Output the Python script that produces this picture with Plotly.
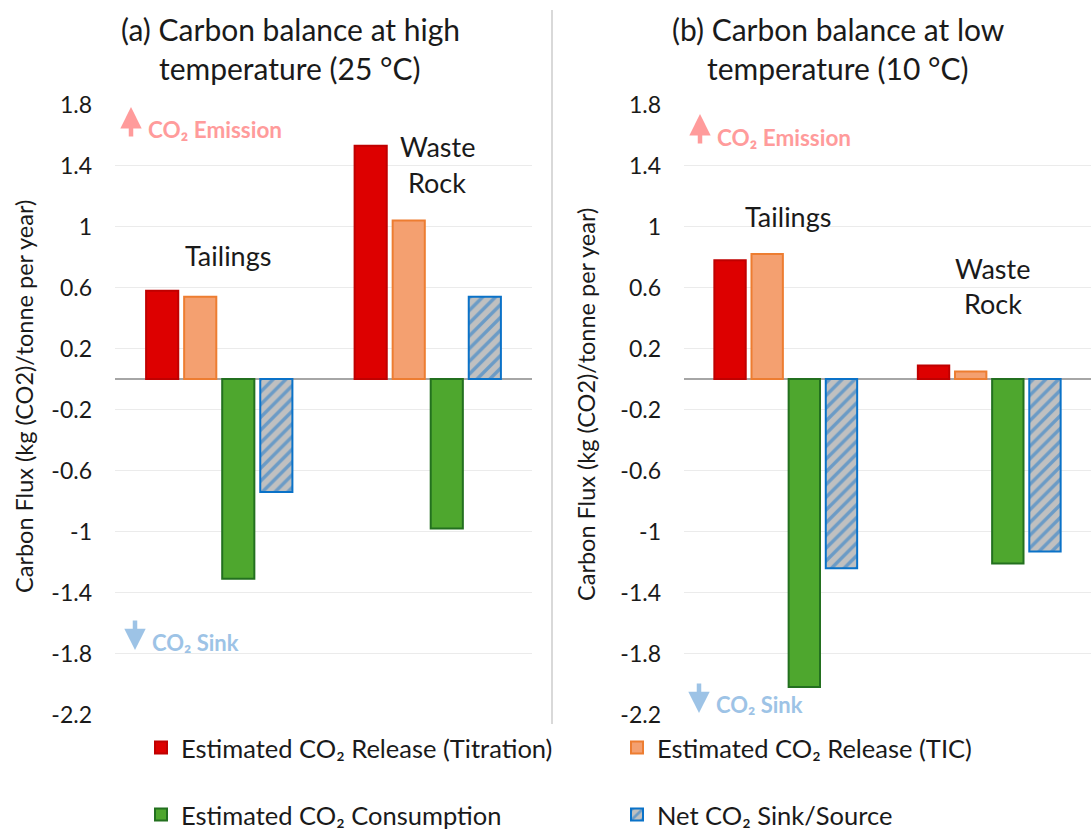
import plotly.graph_objects as go

W, H = 1091, 830

categories = ["Tailings", "Waste Rock"]
series_names = [
    "Estimated CO₂ Release (Titration)",
    "Estimated CO₂ Release (TIC)",
    "Estimated CO₂ Consumption",
    "Net CO₂ Sink/Source",
]
high_titration = [0.58, 1.53]
high_tic = [0.54, 1.04]
high_consumption = [-1.31, -0.98]
high_net = [-0.74, 0.54]
low_titration = [0.78, 0.09]
low_tic = [0.82, 0.05]
low_consumption = [-2.02, -1.21]
low_net = [-1.24, -1.13]

tick_vals = [1.8, 1.4, 1.0, 0.6, 0.2, -0.2, -0.6, -1.0, -1.4, -1.8, -2.2]
tick_text = ["1.8", "1.4", "1", "0.6", "0.2", "-0.2", "-0.6", "-1", "-1.4", "-1.8", "-2.2"]

FONT = "Lato"
TXT = "#1a1a1a"

styles = [
    dict(color="#DD0000", line=dict(color="#C00000", width=2)),
    dict(color="#F4A070", line=dict(color="#ED7D31", width=2)),
    dict(color="#4EA72E", line=dict(color="#23701F", width=2)),
    dict(color="#BFBFBF", line=dict(color="#0A72C8", width=2),
         pattern=dict(shape="/", fgcolor="#1676CC", bgcolor="#C0C0C0", size=9, solidity=0.38)),
]

def px_x(p):
    return p / W

def px_y(p):
    return 1 - p / H

fig = go.Figure()
high = [high_titration, high_tic, high_consumption, high_net]
low = [low_titration, low_tic, low_consumption, low_net]
legends = ["legend", "legend2", "legend3", "legend4"]
for i, (name, vals) in enumerate(zip(series_names, high)):
    fig.add_trace(go.Bar(x=categories, y=vals, name=name, marker=styles[i],
                         xaxis="x", yaxis="y", legend=legends[i], showlegend=True))
for i, (name, vals) in enumerate(zip(series_names, low)):
    fig.add_trace(go.Bar(x=categories, y=vals, name=name, marker=styles[i],
                         xaxis="x2", yaxis="y2", showlegend=False))

ydom = [px_y(714.5), px_y(104.7)]
yax = dict(range=[-2.2, 1.8], tickvals=tick_vals, ticktext=tick_text,
           showgrid=True, gridcolor="#EBEBEB", gridwidth=1,
           zeroline=True, zerolinecolor="#A6A6A6", zerolinewidth=1.5,
           showline=False, ticks="", ticklabelstandoff=22,
           tickfont=dict(family=FONT, size=23, color=TXT), domain=ydom)
xax = dict(showticklabels=False, showgrid=False, zeroline=False, showline=False, ticks="")

fig.update_layout(
    width=W, height=H,
    margin=dict(l=0, r=0, t=0, b=0, autoexpand=False),
    paper_bgcolor="white", plot_bgcolor="white",
    barmode="group", bargap=0.27, bargroupgap=0.155,
    font=dict(family=FONT, color=TXT),
    xaxis=dict(xax, domain=[px_x(115), px_x(532)]),
    xaxis2=dict(xax, domain=[px_x(684), 1.0]),
    yaxis=dict(yax, anchor="x"),
    yaxis2=dict(yax, anchor="x2"),
)

leg_common = dict(orientation="h", xanchor="left", yanchor="middle",
                  font=dict(family=FONT, size=25.5, color=TXT), bgcolor="rgba(0,0,0,0)")
leg_pos = [(141, 748), (617, 748), (141, 815), (617, 815)]
for name, (lx, ly) in zip(legends, leg_pos):
    fig.update_layout({name: dict(leg_common, x=px_x(lx), y=px_y(ly))})

ann = []
def text(x, y, s, size, color=TXT, bold=False, angle=0):
    if bold:
        s = "<b>" + s + "</b>"
    ann.append(dict(xref="paper", yref="paper", x=px_x(x), y=px_y(y), text=s,
                    showarrow=False, xanchor="center", yanchor="middle", textangle=angle,
                    font=dict(family=FONT, size=size, color=color)))

def arrow(x, y_tip, length, color, up=True):
    ann.append(dict(xref="paper", yref="paper", x=px_x(x), y=px_y(y_tip), text="",
                    showarrow=True, ax=0, ay=length if up else -length,
                    arrowhead=2, arrowsize=0.95, arrowwidth=4.5, arrowcolor=color))

# titles
text(290, 29, "(a) Carbon balance at high", 30)
text(290, 68, "temperature (25 °C)", 30)
text(838, 29, "(b) Carbon balance at low", 30)
text(838, 68, "temperature (10 °C)", 30)

# axis titles
ytitle = "Carbon Flux (kg (CO2)/tonne per year)"
text(24, 397, ytitle, 23.5, angle=-90)
text(586, 405, ytitle, 23.5, angle=-90)

# category labels
text(228, 255, "Tailings", 27)
text(437, 146, "Waste", 27)
text(437, 182, "Rock", 27)
text(788, 216, "Tailings", 27)
text(993, 268, "Waste", 27)
text(993, 303, "Rock", 27)

# emission / sink markers
PINK = "#FF9B9B"
BLUE = "#9DC3E6"
arrow(131, 107, 31, PINK, up=True)
ann.append(dict(xref="paper", yref="paper", x=px_x(146), y=px_y(130), text="<b>CO₂ Emission</b>",
                showarrow=False, xanchor="left", yanchor="middle",
                font=dict(family=FONT, size=22.5, color=PINK)))
arrow(135, 650, 31, BLUE, up=False)
ann.append(dict(xref="paper", yref="paper", x=px_x(150), y=px_y(642), text="<b>CO₂ Sink</b>",
                showarrow=False, xanchor="left", yanchor="middle",
                font=dict(family=FONT, size=22, color=BLUE)))
arrow(700, 114, 31, PINK, up=True)
ann.append(dict(xref="paper", yref="paper", x=px_x(715), y=px_y(137), text="<b>CO₂ Emission</b>",
                showarrow=False, xanchor="left", yanchor="middle",
                font=dict(family=FONT, size=22.5, color=PINK)))
arrow(699, 713, 31, BLUE, up=False)
ann.append(dict(xref="paper", yref="paper", x=px_x(714), y=px_y(704), text="<b>CO₂ Sink</b>",
                showarrow=False, xanchor="left", yanchor="middle",
                font=dict(family=FONT, size=22, color=BLUE)))

fig.update_layout(annotations=ann)

fig.add_shape(type="line", xref="paper", yref="paper",
              x0=px_x(552), x1=px_x(552), y0=px_y(10), y1=px_y(724),
              line=dict(color="#D9D9D9", width=2))

fig.write_html("out.html", config={"displayModeBar": False},
               post_script="document.body.style.margin='0';document.body.style.overflow='hidden';")
